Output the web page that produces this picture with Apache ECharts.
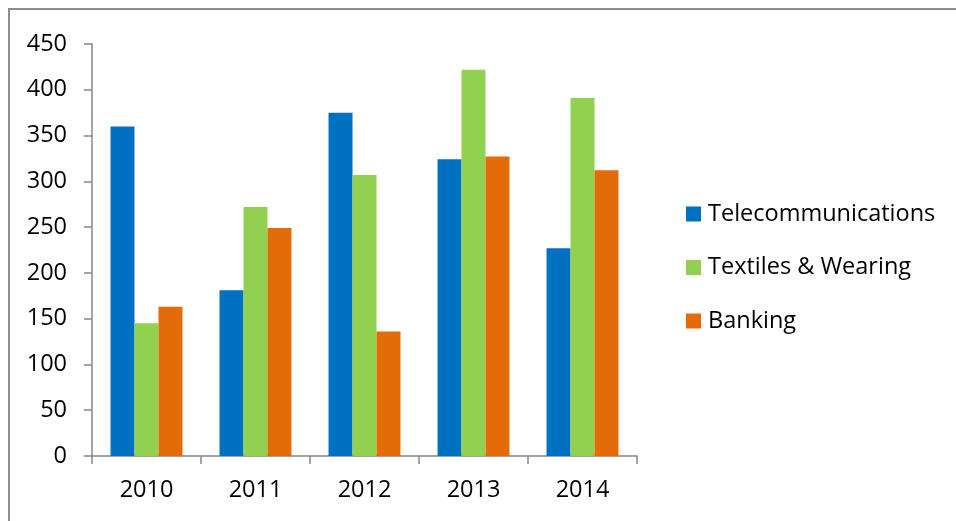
<!DOCTYPE html>
<html><head><meta charset="utf-8">
<script src="https://cdn.jsdelivr.net/npm/echarts@6/dist/echarts.min.js"></script>
<style>
html,body{margin:0;padding:0;background:#fff;}
#frame{position:absolute;left:8px;top:8px;width:948px;height:513px;border-left:2px solid #8c8c8c;border-top:2px solid #8c8c8c;box-sizing:border-box;}
#c{position:absolute;left:0;top:0;width:956px;height:521px;}
</style></head>
<body>
<div id="frame"></div>
<div id="c"></div>
<script>
var categories = ['2010','2011','2012','2013','2014'];
var telecom = [360, 181, 375, 324, 227];
var textiles = [145, 272, 307, 422, 391];
var banking = [163, 249, 136, 327, 312];
var seriesNames = ['Telecommunications','Textiles & Wearing','Banking'];
var colors = ['#0070C0','#92D050','#E36C09'];

var font = '"Open Sans", "Noto Sans", sans-serif';
var fs = 23.5;
var chart = echarts.init(document.getElementById('c'));
chart.setOption({
  animation: false,
  color: colors,
  grid: {left: 92, right: 319, top: 44, bottom: 65, containLabel: false},
  legend: {
    orient: 'vertical', left: 681, top: 197,
    itemWidth: 15, itemHeight: 15, itemGap: 29.5,
    icon: 'rect',
    textStyle: {fontFamily: font, fontSize: fs, color: '#000', padding: [0,0,0,2]},
    data: seriesNames
  },
  xAxis: {
    type: 'category', data: categories,
    axisLine: {lineStyle: {color: '#868686', width: 1.5}},
    axisTick: {show: true, length: 8, alignWithLabel: false, lineStyle: {color: '#868686', width: 1.5}},
    axisLabel: {fontFamily: font, fontSize: fs, color: '#000', margin: 22}
  },
  yAxis: {
    type: 'value', min: 0, max: 450, interval: 50,
    axisLine: {show: true, lineStyle: {color: '#868686', width: 1.5}},
    axisTick: {show: true, length: 8, lineStyle: {color: '#868686', width: 1.5}},
    splitLine: {show: false},
    axisLabel: {fontFamily: font, fontSize: fs, color: '#000', margin: 25}
  },
  series: [
    {name: seriesNames[0], type: 'bar', data: telecom, barGap: '0%', barCategoryGap: '34%'},
    {name: seriesNames[1], type: 'bar', data: textiles, barGap: '0%', barCategoryGap: '34%'},
    {name: seriesNames[2], type: 'bar', data: banking, barGap: '0%', barCategoryGap: '34%'}
  ]
});
</script>
</body></html>
